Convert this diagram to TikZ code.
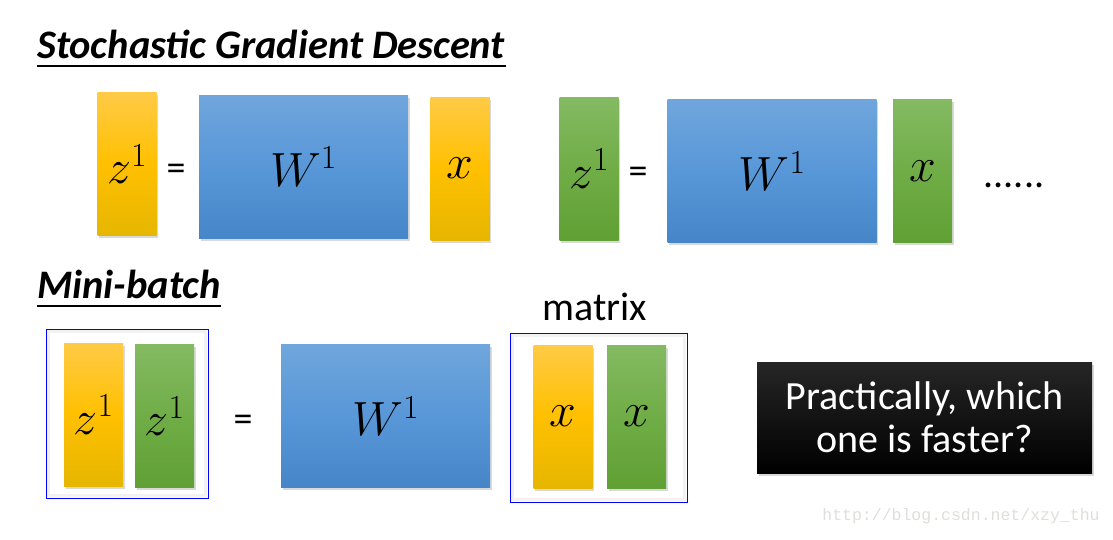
\RequirePackage{fix-cm}
\documentclass[tikz,border=0pt]{standalone}
\usepackage{fontspec}
\setmainfont{Carlito}
\setmonofont{Liberation Mono}
\usetikzlibrary{positioning,shadows}
\definecolor{yellowtop}{RGB}{255,202,70}
\definecolor{yellowmid}{RGB}{255,192,0}
\definecolor{yellowbot}{RGB}{230,182,0}
\definecolor{greentop}{RGB}{132,186,98}
\definecolor{greenmid}{RGB}{112,173,71}
\definecolor{greenbot}{RGB}{96,160,52}
\definecolor{bluetop}{RGB}{112,166,220}
\definecolor{bluemid}{RGB}{88,151,216}
\definecolor{bluebot}{RGB}{70,134,200}
\definecolor{markgray}{RGB}{222,222,218}

\begin{document}
\begin{tikzpicture}[x=1pt, y=-1pt,
  vecbox/.style={rectangle, minimum width=59pt, minimum height=143pt, inner sep=0pt, drop shadow={opacity=0.3, shadow xshift=1.5pt, shadow yshift=-2.5pt}, font=\fontsize{48}{52}\selectfont},
  ybox/.style={vecbox, top color=yellowtop, bottom color=yellowbot, middle color=yellowmid},
  gbox/.style={vecbox, top color=greentop, bottom color=greenbot, middle color=greenmid},
  wbox/.style={vecbox, minimum width=209pt, top color=bluetop, bottom color=bluebot, middle color=bluemid},
  eqsign/.style={font=\fontsize{38}{40}\selectfont, inner sep=0pt},
  heading/.style={font=\fontsize{40.5}{44}\selectfont\bfseries\itshape, anchor=base west, inner sep=0pt},
  frame/.style={rectangle, draw=blue, line width=0.8pt, inner sep=0pt, path picture={\draw[black!5, line width=3pt] ([shift={(2.5pt,2.5pt)}]path picture bounding box.south west) rectangle ([shift={(-2.5pt,-2.5pt)}]path picture bounding box.north east);}},
  lbl/.style={font=\fontsize{40}{43}\selectfont, inner sep=0pt}
]
\useasboundingbox (0,0) rectangle (1113,539);

% Headings
\node[heading] (sgd) at (37,58) {Stochastic Gradient Descent};
\draw[line width=2.2pt] (sgd.base west) ++(0,8) -- ++(469,0);
\node[heading] (mb) at (37,298) {Mini-batch};
\draw[line width=2.2pt] (mb.base west) ++(0,8) -- ++(184,0);

% Row 1: one example at a time
\node[ybox] (z1) at (127,164) {$z^1$};
\node[eqsign] (eq1) at (176,172) {=};
\node[wbox] (w1) at (303.5,166.5) {$W^1$};
\node[ybox] (x1) at (460,168.5) {$x$};
\node[gbox] (z2) at (589,168.5) {$z^1$};
\node[eqsign] (eq2) at (638,175) {=};
\node[wbox] (w2) at (772,171) {$W^1$};
\node[gbox] (x2) at (922.5,171) {$x$};
\node[lbl, anchor=base] (dots) at (1014,187) {......};

% Row 2: mini-batch
\node[frame, minimum width=162pt, minimum height=169pt] (zframe) at (127,413.5) {};
\node[ybox] (z3) at (93.5,414.5) {$z^1$};
\node[gbox] (z4) at (164.5,416) {$z^1$};
\node[eqsign] (eq3) at (243,423) {=};
\node[wbox] (w3) at (385.5,416) {$W^1$};
\node[frame, minimum width=177pt, minimum height=169pt] (xframe) at (598.5,417.5) {};
\node[lbl, anchor=base] (mtx) at (595,320) {matrix};
\node[ybox] (x3) at (563,416.5) {$x$};
\node[gbox] (x4) at (636.5,416.5) {$x$};

% Question
\node[rectangle, minimum width=335pt, minimum height=111pt, top color=black!85, bottom color=black, text=white, align=center, lbl, drop shadow={opacity=0.3, shadow xshift=1.5pt, shadow yshift=-2.5pt}] (ask) at (924.5,417.5) {Practically, which\\one is faster?};

% Watermark
\node[font=\ttfamily\fontsize{16.5}{18}\selectfont, text=markgray, inner sep=0pt] (mark) at (961,516) {http://blog.csdn.net/xzy\_thu};

\end{tikzpicture}
\end{document}
